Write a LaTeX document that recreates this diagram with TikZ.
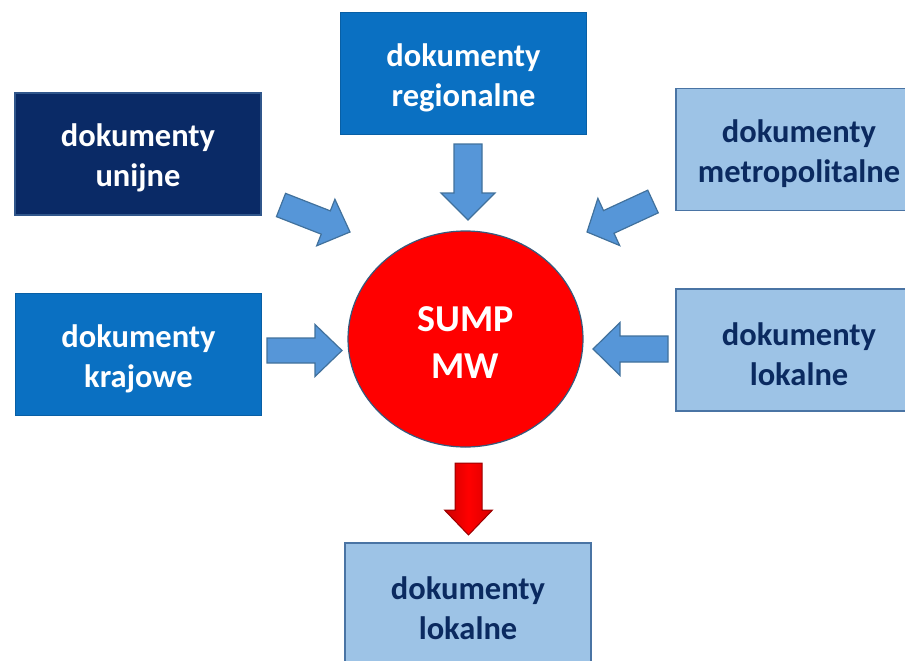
\documentclass[tikz,border=0pt]{standalone}
\usepackage{fontspec}
\setmainfont{Carlito}
\usetikzlibrary{calc,shapes.geometric}
\definecolor{navyfill}{HTML}{0A2A66}
\definecolor{midfill}{HTML}{0A70C2}
\definecolor{lightfill}{HTML}{9DC3E6}
\definecolor{darktext}{HTML}{0B2A60}
\definecolor{boxline}{HTML}{4A74A4}
\definecolor{arrfill}{HTML}{5696D8}
\definecolor{arrline}{HTML}{41719C}
\newcommand\blockarr[6]{%
  \coordinate (bh) at ($(#2)!#5!(#1)$);
  \draw[#6] ($(#1)!#3!90:(#2)$) -- ($(bh)!#3!90:(#2)$) -- ($(bh)!#4!90:(#2)$) -- (#2)
    -- ($(bh)!#4!-90:(#2)$) -- ($(bh)!#3!-90:(#2)$) -- ($(#1)!#3!-90:(#2)$) -- cycle;
}
\begin{document}
\begin{tikzpicture}[x=1pt,y=-1pt,
  docbox/.style={rectangle, minimum width=246pt, minimum height=122pt, inner sep=0pt, outer sep=0pt, line width=1.2pt},
  boxtext/.style={align=center, font=\bfseries\fontsize{32.5}{40}\selectfont, inner sep=0pt, yshift=-4pt},
  navybox/.style={docbox, fill=navyfill, draw=boxline!60!navyfill},
  midbox/.style={docbox, fill=midfill, draw=midfill!85!black},
  lightbox/.style={docbox, fill=lightfill, draw=boxline},
  bluearr/.style={fill=arrfill, draw=arrline, line width=1.2pt, line join=miter},
  redarr/.style={left color=red!80!black, right color=red!85!black, middle color=red, draw=red!60!black, line width=1pt, line join=miter}
]
\useasboundingbox (0,0) rectangle (905,661);
\node[navybox, label={[boxtext, text=white]center:dokumenty\\unijne}] (unijne) at (138,154) {};
\node[midbox, label={[boxtext, text=white]center:dokumenty\\regionalne}] (regionalne) at (463.5,73.5) {};
\node[lightbox, label={[boxtext, text=darktext]center:dokumenty\\metropolitalne}] (metro) at (799,149.5) {};
\node[midbox, label={[boxtext, text=white]center:dokumenty\\krajowe}] (krajowe) at (138.5,354.5) {};
\node[lightbox, label={[boxtext, text=darktext]center:dokumenty\\lokalne}] (lokalneR) at (799,350) {};
\node[lightbox, label={[boxtext, text=darktext]center:dokumenty\\lokalne}] (lokalneB) at (468,604) {};
\node[ellipse, minimum width=235pt, minimum height=216pt, inner sep=0pt, fill=red, draw=arrline!80!black,
  line width=1.2pt,
  label={[align=center, text=white, inner sep=0pt, yshift=-4pt, font=\bfseries\fontsize{38}{47}\selectfont]center:SUMP\\MW}] (sump) at (465.5,339) {};
% arrow endpoints
\coordinate (a1s) at (281,205); \coordinate (a1e) at (350,232);
\coordinate (a2s) at (468,144); \coordinate (a2e) at (468,220);
\coordinate (a3s) at (653,201.5); \coordinate (a3e) at (587,232);
\coordinate (a4s) at (267,350.5); \coordinate (a4e) at (342,350.5);
\coordinate (a5s) at (668,349); \coordinate (a5e) at (593,349);
\coordinate (a6s) at (468.5,463); \coordinate (a6e) at (468.5,535);
\blockarr{a1s}{a1e}{12.5pt}{25pt}{26pt}{bluearr}
\blockarr{a2s}{a2e}{14pt}{27pt}{27pt}{bluearr}
\blockarr{a3s}{a3e}{12.5pt}{26pt}{24pt}{bluearr}
\blockarr{a4s}{a4e}{12.5pt}{26pt}{27pt}{bluearr}
\blockarr{a5s}{a5e}{13pt}{26.5pt}{27pt}{bluearr}
\blockarr{a6s}{a6e}{13.5pt}{24pt}{25pt}{redarr}
\end{tikzpicture}
\end{document}
